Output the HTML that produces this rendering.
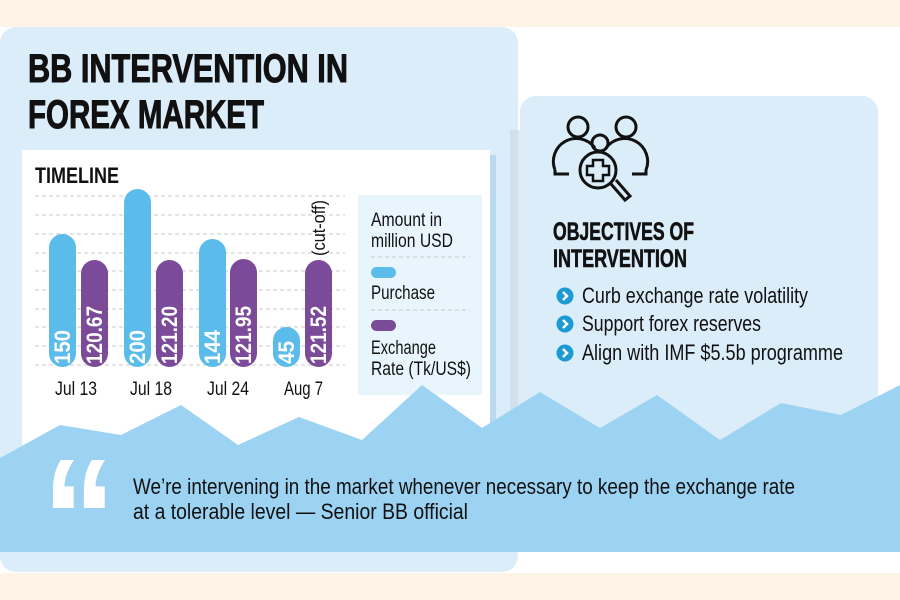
<!DOCTYPE html>
<html><head><meta charset="utf-8"><style>
html,body{margin:0;padding:0;background:#fff;}
svg{display:block;}
text{font-family:"Liberation Sans Narrow","Liberation Sans",sans-serif;}
</style></head><body>
<svg width="900" height="600" viewBox="0 0 900 600" xmlns="http://www.w3.org/2000/svg">
<rect x="0" y="0" width="900" height="600" fill="#ffffff"/>
<rect x="0" y="0" width="900" height="27" fill="#fef3e7"/>
<rect x="0" y="573" width="900" height="27" fill="#fef3e7"/>
<rect x="0" y="27" width="518" height="545" rx="16" fill="#dcedfa"/>
<rect x="520" y="96" width="358" height="380" rx="16" fill="#dcedfa"/>
<rect x="510" y="130" width="10" height="300" fill="#c4d4e0" opacity="0.5"/>
<text x="28" y="82" font-size="40" font-weight="bold" fill="#111" stroke="#111" stroke-width="1" textLength="320" lengthAdjust="spacingAndGlyphs">BB INTERVENTION IN</text>
<text x="28" y="128" font-size="40" font-weight="bold" fill="#111" stroke="#111" stroke-width="1" textLength="236" lengthAdjust="spacingAndGlyphs">FOREX MARKET</text>
<rect x="22" y="150" width="468" height="300" fill="#ffffff"/>
<rect x="490" y="155" width="6" height="290" fill="#b8d9f0"/>
<text x="35" y="183" font-size="22" font-weight="bold" fill="#111" textLength="84" lengthAdjust="spacingAndGlyphs">TIMELINE</text>
<g stroke="#c8c8c8" stroke-width="1" stroke-dasharray="4,3">
<line x1="35" y1="196" x2="345" y2="196"/><line x1="35" y1="215" x2="345" y2="215"/>
<line x1="35" y1="234" x2="345" y2="234"/><line x1="35" y1="253" x2="345" y2="253"/>
<line x1="35" y1="271" x2="345" y2="271"/><line x1="35" y1="290" x2="345" y2="290"/>
<line x1="35" y1="309" x2="345" y2="309"/><line x1="35" y1="327" x2="345" y2="327"/>
<line x1="35" y1="346" x2="345" y2="346"/><line x1="35" y1="365" x2="345" y2="365"/>
</g>
<g fill="#5bbcec">
<rect x="49" y="234" width="27" height="133" rx="13.5"/>
<rect x="124" y="189" width="27" height="178" rx="13.5"/>
<rect x="199" y="239" width="27" height="128" rx="13.5"/>
<rect x="273" y="327" width="27" height="40" rx="13.5"/>
</g>
<g fill="#7b4b9a">
<rect x="81" y="260" width="27" height="107" rx="13.5"/>
<rect x="156" y="260" width="27" height="107" rx="13.5"/>
<rect x="230" y="259" width="27" height="108" rx="13.5"/>
<rect x="305" y="260" width="27" height="107" rx="13.5"/>
</g>
<g fill="#fff" font-size="22" font-weight="bold">
<text transform="translate(70,364) rotate(-90)" textLength="34" lengthAdjust="spacingAndGlyphs">150</text>
<text transform="translate(102,364) rotate(-90)" textLength="58" lengthAdjust="spacingAndGlyphs">120.67</text>
<text transform="translate(145,364) rotate(-90)" textLength="34" lengthAdjust="spacingAndGlyphs">200</text>
<text transform="translate(177,364) rotate(-90)" textLength="58" lengthAdjust="spacingAndGlyphs">121.20</text>
<text transform="translate(220,364) rotate(-90)" textLength="34" lengthAdjust="spacingAndGlyphs">144</text>
<text transform="translate(251,364) rotate(-90)" textLength="58" lengthAdjust="spacingAndGlyphs">121.95</text>
<text transform="translate(294,364) rotate(-90)" textLength="23" lengthAdjust="spacingAndGlyphs">45</text>
<text transform="translate(326,364) rotate(-90)" textLength="58" lengthAdjust="spacingAndGlyphs">121.52</text>
</g>
<text transform="translate(325,256) rotate(-90)" font-size="18" fill="#111" textLength="56" lengthAdjust="spacingAndGlyphs">(cut-off)</text>
<g font-size="19" fill="#111">
<text x="55" y="395" textLength="42" lengthAdjust="spacingAndGlyphs">Jul 13</text>
<text x="130" y="395" textLength="42" lengthAdjust="spacingAndGlyphs">Jul 18</text>
<text x="207" y="395" textLength="42" lengthAdjust="spacingAndGlyphs">Jul 24</text>
<text x="284" y="395" textLength="39" lengthAdjust="spacingAndGlyphs">Aug 7</text>
</g>
<rect x="358" y="195" width="124" height="200" fill="#e9f5fd"/>
<g font-size="19" fill="#111">
<text x="371" y="226" textLength="71" lengthAdjust="spacingAndGlyphs">Amount in</text>
<text x="371" y="247" textLength="82" lengthAdjust="spacingAndGlyphs">million USD</text>
<text x="371" y="299" textLength="64" lengthAdjust="spacingAndGlyphs">Purchase</text>
<text x="371" y="354" textLength="65" lengthAdjust="spacingAndGlyphs">Exchange</text>
<text x="371" y="375" textLength="100" lengthAdjust="spacingAndGlyphs">Rate (Tk/US$)</text>
</g>
<g stroke="#c8c8c8" stroke-dasharray="4,3"><line x1="371" y1="257" x2="470" y2="257"/><line x1="371" y1="310" x2="470" y2="310"/></g>
<rect x="371" y="267" width="25" height="11" rx="5.5" fill="#5bbcec"/>
<rect x="371" y="320" width="25" height="11" rx="5.5" fill="#7b4b9a"/>
<g fill="none" stroke="#111" stroke-width="3">
<circle cx="578" cy="127" r="10"/><circle cx="626" cy="127" r="10"/><circle cx="600" cy="143" r="8"/>
<path d="M555 170 a23 23 0 0 1 40 -22"/><path d="M606 148 a23 23 0 0 1 40 22 l0 4 -14 0"/>
<path d="M555 170 l0 4 14 0"/>
<circle cx="598" cy="170" r="18" fill="#dcedfa"/>
<path d="M593 160 h10 v6 h6 v9 h-6 v6 h-10 v-6 h-6 v-9 h6z" stroke-width="2.5"/>
<path d="M611 184 l14 16 l5 -4 l-14 -16"/>
</g>
<text x="553" y="240" font-size="25" font-weight="bold" fill="#111" stroke="#111" stroke-width="0.6" textLength="141" lengthAdjust="spacingAndGlyphs">OBJECTIVES OF</text>
<text x="553" y="267" font-size="25" font-weight="bold" fill="#111" stroke="#111" stroke-width="0.6" textLength="134" lengthAdjust="spacingAndGlyphs">INTERVENTION</text>
<g fill="#1b9ad6"><circle cx="565" cy="296" r="8.5"/><circle cx="565" cy="324" r="8.5"/><circle cx="565" cy="353" r="8.5"/></g>
<g fill="none" stroke="#fff" stroke-width="2.5"><path d="M563 292 l4 4 -4 4"/><path d="M563 320 l4 4 -4 4"/><path d="M563 349 l4 4 -4 4"/></g>
<g font-size="22" fill="#111">
<text x="582" y="303" textLength="226" lengthAdjust="spacingAndGlyphs">Curb exchange rate volatility</text>
<text x="582" y="331" textLength="179" lengthAdjust="spacingAndGlyphs">Support forex reserves</text>
<text x="582" y="360" textLength="261" lengthAdjust="spacingAndGlyphs">Align with IMF $5.5b programme</text>
</g>
<polygon fill="#9dd3f2" points="0,458 60,425 121,435 181,405 238,445 299,417 362,440 422,385 482,428 540,392 600,428 657,395 720,440 781,403 841,415 900,385 900,552 0,552"/>
<text x="42" y="577" font-size="170" font-weight="bold" fill="#fff" font-family="Liberation Sans, sans-serif" textLength="74" lengthAdjust="spacingAndGlyphs">“</text>
<g font-size="22" fill="#111">
<text x="133" y="494" textLength="662" lengthAdjust="spacingAndGlyphs">We’re intervening in the market whenever necessary to keep the exchange rate</text>
<text x="133" y="519" textLength="335" lengthAdjust="spacingAndGlyphs">at a tolerable level — Senior BB official</text>
</g>
</svg>
</body></html>
